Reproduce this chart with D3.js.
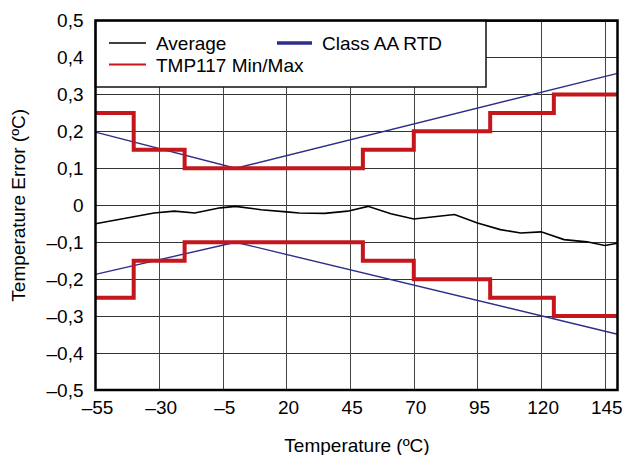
<!DOCTYPE html>
<html><head><meta charset="utf-8">
<script src="https://cdn.jsdelivr.net/npm/d3@7"></script>
<style>body{margin:0;background:#fff}svg{display:block;font-family:"Liberation Sans",Arial,sans-serif}</style>
</head><body>
<svg id="c" width="623" height="455"></svg>
<script>
// ---- data ----
const xTicks = [-55, -30, -5, 20, 45, 70, 95, 120, 145];
const yTicks = [0.5, 0.4, 0.3, 0.2, 0.1, 0, -0.1, -0.2, -0.3, -0.4, -0.5];
const yTickLabels = ["0,5","0,4","0,3","0,2","0,1","0","\u20130,1","\u20130,2","\u20130,3","\u20130,4","\u20130,5"];
const xTickLabels = ["\u201355","\u201330","\u20135","20","45","70","95","120","145"];

const avgTemp = [-55, -32, -24, -16, -6, 0, 10, 20, 25, 35, 44, 52, 61, 70, 86, 95, 104, 112, 120, 129, 138, 145, 150];
const avgErr  = [-0.050, -0.021, -0.016, -0.021, -0.007, -0.003, -0.012, -0.018, -0.021, -0.022, -0.016, -0.003, -0.023, -0.037, -0.025, -0.048, -0.066, -0.075, -0.072, -0.093, -0.099, -0.109, -0.103];

// step boundaries and levels for TMP117 min/max
const stepTemp = [-55, -40, -20, 50, 70, 100, 125, 150];
const stepMax  = [0.25, 0.15, 0.10, 0.15, 0.20, 0.25, 0.30];
const stepMin  = [-0.25, -0.15, -0.10, -0.15, -0.20, -0.25, -0.30];

const rtdTemp  = [-55, 0, 150];
const rtdUpper = [0.198, 0.10, 0.357];
const rtdLower = [-0.187, -0.10, -0.349];

// ---- layout ----
const svg = d3.select("#c");
const L = 95.5, R = 617.5, T = 20.5, B = 390;
const x = d3.scaleLinear().domain([-55, 150]).range([L, R]);
const y = d3.scaleLinear().domain([-0.5, 0.5]).range([B, T]);

const RED = "#c4161c", NAVY = "#2e2d8a";
const FS = 19;

// grid
const g = svg.append("g");
g.selectAll(".hg").data(yTicks).join("line")
  .attr("x1", L).attr("x2", R)
  .attr("y1", d => Math.round(y(d)) + 0.5).attr("y2", d => Math.round(y(d)) + 0.5)
  .attr("stroke", "#333").attr("stroke-width", 1);
g.selectAll(".vg").data(xTicks.slice(1)).join("line")
  .attr("x1", d => Math.round(x(d)) + 0.5).attr("x2", d => Math.round(x(d)) + 0.5)
  .attr("y1", T).attr("y2", B)
  .attr("stroke", "#444").attr("stroke-width", 1);

// RTD lines
const line = d3.line().x(d => x(d[0])).y(d => y(d[1]));
svg.append("path").datum(rtdTemp.map((t, i) => [t, rtdUpper[i]]))
  .attr("d", line).attr("fill", "none").attr("stroke", NAVY).attr("stroke-width", 1.4);
svg.append("path").datum(rtdTemp.map((t, i) => [t, rtdLower[i]]))
  .attr("d", line).attr("fill", "none").attr("stroke", NAVY).attr("stroke-width", 1.4);

// step lines
function stepPts(levels) {
  const pts = [];
  levels.forEach((v, i) => { pts.push([stepTemp[i], v]); pts.push([stepTemp[i + 1], v]); });
  return pts;
}
svg.append("path").datum(stepPts(stepMax))
  .attr("d", line).attr("fill", "none").attr("stroke", RED).attr("stroke-width", 4).attr("stroke-linejoin", "miter");
svg.append("path").datum(stepPts(stepMin))
  .attr("d", line).attr("fill", "none").attr("stroke", RED).attr("stroke-width", 4).attr("stroke-linejoin", "miter");

// average
svg.append("path").datum(avgTemp.map((t, i) => [t, avgErr[i]]))
  .attr("d", line).attr("fill", "none").attr("stroke", "#000").attr("stroke-width", 1.6);

// legend
const lg = svg.append("g");
lg.append("rect").attr("x", L).attr("y", T).attr("width", 486 - L).attr("height", 87 - T)
  .attr("fill", "#fff").attr("stroke", "#111").attr("stroke-width", 1.5);
lg.append("line").attr("x1", 109).attr("x2", 146).attr("y1", 43).attr("y2", 43).attr("stroke", "#000").attr("stroke-width", 1.6);
lg.append("text").attr("x", 156).attr("y", 50).attr("font-size", FS).text("Average");
lg.append("line").attr("x1", 277).attr("x2", 312).attr("y1", 43).attr("y2", 43).attr("stroke", NAVY).attr("stroke-width", 3.5);
lg.append("text").attr("x", 322).attr("y", 50).attr("font-size", FS).text("Class AA RTD");
lg.append("line").attr("x1", 109).attr("x2", 146).attr("y1", 64.5).attr("y2", 64.5).attr("stroke", RED).attr("stroke-width", 1.8);
lg.append("text").attr("x", 156).attr("y", 71.5).attr("font-size", FS).text("TMP117 Min/Max");

// frame
svg.append("rect").attr("x", L).attr("y", T).attr("width", R - L).attr("height", B - T)
  .attr("fill", "none").attr("stroke", "#000").attr("stroke-width", 2.5);

// axis labels via d3 axes (no tick lines)
const yAxis = d3.axisLeft(y).tickValues(yTicks).tickFormat((d, i) => yTickLabels[i]).tickSize(0).tickPadding(12);
const ya = svg.append("g").attr("transform", `translate(${L},0)`).call(yAxis);
ya.select(".domain").remove();
ya.selectAll("text").attr("font-size", FS).attr("fill", "#000").attr("font-family", '"Liberation Sans",Arial,sans-serif');

const xAxis = d3.axisBottom(x).tickValues(xTicks).tickFormat((d, i) => xTickLabels[i]).tickSize(0).tickPadding(11);
const xa = svg.append("g").attr("transform", `translate(1.5,${B})`).call(xAxis);
xa.select(".domain").remove();
xa.selectAll("text").attr("font-size", FS).attr("fill", "#000").attr("font-family", '"Liberation Sans",Arial,sans-serif');

svg.append("text").attr("x", 357).attr("y", 452).attr("text-anchor", "middle").attr("font-size", FS).text("Temperature (ºC)");
svg.append("text").attr("transform", `translate(25,${(T + B) / 2}) rotate(-90)`).attr("text-anchor", "middle").attr("font-size", FS).text("Temperature Error (ºC)");
</script>
</body></html>
